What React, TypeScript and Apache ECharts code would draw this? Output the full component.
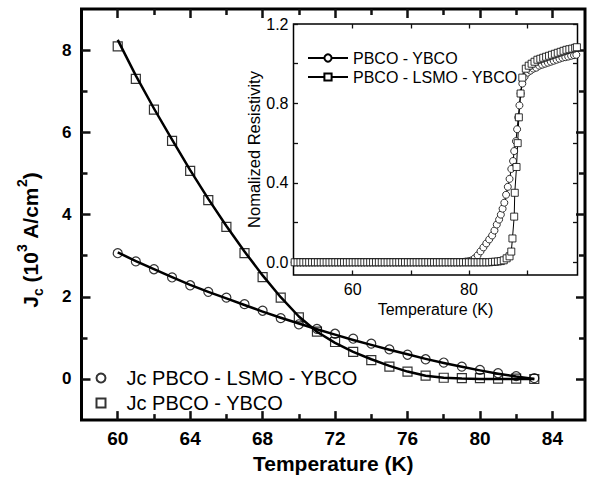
import React, { useEffect, useRef } from "react";
import * as echarts from "echarts";

// ---------- Main panel data (Jc vs T) ----------
const mainT = [60, 61, 62, 63, 64, 65, 66, 67, 68, 69, 70, 71, 72, 73, 74, 75, 76, 77, 78, 79, 80, 81, 82, 83];
const jcLsmo = [3.06, 2.86, 2.67, 2.47, 2.28, 2.12, 1.98, 1.82, 1.66, 1.48, 1.33, 1.22, 1.10, 0.98, 0.86, 0.72, 0.59, 0.48, 0.40, 0.30, 0.22, 0.14, 0.07, 0.02];
const jcYbco = [8.09, 7.30, 6.55, 5.79, 5.06, 4.35, 3.70, 3.06, 2.48, 1.98, 1.50, 1.15, 0.90, 0.66, 0.46, 0.30, 0.18, 0.08, 0.03, 0.02, 0.02, 0.01, 0.01, 0.0];
const fitLsmo = [3.08, 2.87, 2.67, 2.48, 2.29, 2.12, 1.96, 1.80, 1.64, 1.49, 1.35, 1.21, 1.08, 0.95, 0.83, 0.71, 0.60, 0.49, 0.39, 0.30, 0.21, 0.13, 0.06, 0.0];
const fitYbco = [8.25, 7.38, 6.58, 5.82, 5.08, 4.38, 3.72, 3.10, 2.52, 1.99, 1.52, 1.15, 0.88, 0.66, 0.48, 0.32, 0.18, 0.08, 0.03, 0.01, 0.0, 0.0, 0.0, 0.0];

const mainXMajor = [60, 64, 68, 72, 76, 80, 84];
const mainXMinor = [62, 66, 70, 74, 78, 82];
const mainYMajor = [0, 2, 4, 6, 8];
const mainYMinor = [1, 3, 5, 7];

// ---------- Inset data (normalized resistivity vs T) ----------
const insetT_pbcoYbco = [
  50, 50.5, 51, 51.5, 52, 52.5, 53, 53.5, 54, 54.5, 55, 55.5, 56, 56.5, 57, 57.5, 58, 58.5, 59, 59.5,
  60, 60.5, 61, 61.5, 62, 62.5, 63, 63.5, 64, 64.5, 65, 65.5, 66, 66.5, 67, 67.5, 68, 68.5, 69, 69.5,
  70, 70.5, 71, 71.5, 72, 72.5, 73, 73.5, 74, 74.5, 75, 75.5, 76, 76.5, 77, 77.5, 78, 78.5, 79, 79.5,
  80, 80.5, 81, 81.5, 82, 82.5, 83, 83.5, 84, 84.4, 84.8, 85.2, 85.5, 85.8, 86.1, 86.4, 86.7, 87, 87.3,
  87.6, 87.8, 88.1, 88.3, 88.5, 88.7, 88.9, 89.2, 89.6, 90.1, 90.6, 91.1, 91.6, 92.1, 92.6, 93.1, 93.6,
  94.1, 94.6, 95.1, 95.6, 96.1, 96.6, 97.1, 97.6, 98.1, 98.5,
];
const insetR_pbcoYbco = [
  0, 0, 0, 0, 0, 0, 0, 0, 0, 0, 0, 0, 0, 0, 0, 0, 0, 0, 0, 0,
  0, 0, 0, 0, 0, 0, 0, 0, 0, 0, 0, 0, 0, 0, 0, 0, 0, 0, 0, 0,
  0, 0, 0, 0, 0, 0, 0, 0, 0, 0, 0, 0, 0, 0, 0, 0, 0, 0, 0.002, 0.004,
  0.006, 0.01, 0.02, 0.035, 0.055, 0.075, 0.095, 0.115, 0.135, 0.16, 0.19, 0.215, 0.24, 0.27, 0.30, 0.34, 0.38, 0.42, 0.47,
  0.51, 0.56, 0.61, 0.67, 0.73, 0.79, 0.85, 0.90, 0.935, 0.955, 0.965, 0.975, 0.98, 0.99, 0.995, 1.0, 1.005,
  1.01, 1.015, 1.02, 1.025, 1.03, 1.033, 1.036, 1.04, 1.043, 1.045,
];
const insetT_pbcoLsmoYbco = [
  50, 50.5, 51, 51.5, 52, 52.5, 53, 53.5, 54, 54.5, 55, 55.5, 56, 56.5, 57, 57.5, 58, 58.5, 59, 59.5,
  60, 60.5, 61, 61.5, 62, 62.5, 63, 63.5, 64, 64.5, 65, 65.5, 66, 66.5, 67, 67.5, 68, 68.5, 69, 69.5,
  70, 70.5, 71, 71.5, 72, 72.5, 73, 73.5, 74, 74.5, 75, 75.5, 76, 76.5, 77, 77.5, 78, 78.5, 79, 79.5,
  80, 80.5, 81, 81.5, 82, 82.5, 83, 83.5, 84, 84.5, 85, 85.5, 86, 86.5, 87, 87.3, 87.5, 87.8, 87.9,
  88.2, 88.4, 88.6, 88.9, 89.2, 89.8, 90.3, 90.8, 91.3, 91.8, 92.3, 92.8, 93.3, 93.8, 94.3, 94.8, 95.3,
  95.8, 96.3, 96.8, 97.3, 97.8, 98.3, 98.6,
];
const insetR_pbcoLsmoYbco = [
  0, 0, 0, 0, 0, 0, 0, 0, 0, 0, 0, 0, 0, 0, 0, 0, 0, 0, 0, 0,
  0, 0, 0, 0, 0, 0, 0, 0, 0, 0, 0, 0, 0, 0, 0, 0, 0, 0, 0, 0,
  0, 0, 0, 0, 0, 0, 0, 0, 0, 0, 0, 0, 0, 0, 0, 0, 0, 0, 0, 0,
  0, 0, 0, 0, 0, 0, 0, 0, 0.002, 0.003, 0.004, 0.006, 0.01, 0.02, 0.03, 0.054, 0.12, 0.23, 0.35,
  0.48, 0.60, 0.73, 0.85, 0.93, 0.975, 0.99, 1.0, 1.01, 1.02, 1.025, 1.03, 1.035, 1.04, 1.045, 1.05, 1.055,
  1.06, 1.065, 1.07, 1.073, 1.076, 1.08, 1.083,
];

const insetXTicks = [60, 70, 80, 90];
const insetXLabels = [60, 80];
const insetYTicks = [0, 0.2, 0.4, 0.6, 0.8, 1.0, 1.2];
const insetYLabels = [0, 0.4, 0.8, 1.2];

const FONT = "'Liberation Sans', Arial, Helvetica, sans-serif";

function pairs(xs: number[], ys: number[]) {
  return xs.map((x, i) => [x, ys[i]]);
}

export default function App() {
  const ref = useRef<HTMLDivElement>(null);
  useEffect(() => {
    if (!ref.current) return;
    const chart = echarts.init(ref.current, null, { renderer: "svg" });

    const tick = (vals: number[], len: number, w: number) => ({
      show: true,
      inside: true,
      length: len,
      customValues: vals,
      lineStyle: { color: "#111", width: w },
    });
    const noLabel = { show: false };
    const noLine = { show: false, onZero: false };
    const noSplit = { show: false };

    const mainX = (position: string, ticks: number[], len: number, labels: boolean) => ({
      type: "value",
      gridIndex: 0,
      min: 58,
      max: 85.8,
      position,
      axisLine: noLine,
      splitLine: noSplit,
      axisTick: tick(ticks, len, 2.5),
      axisLabel: labels
        ? { show: true, customValues: ticks, margin: 9, color: "#000", fontSize: 19, fontWeight: "bold", fontFamily: FONT }
        : noLabel,
    });
    const mainY = (position: string, ticks: number[], len: number, labels: boolean) => ({
      type: "value",
      gridIndex: 0,
      min: -1,
      max: 9,
      position,
      axisLine: noLine,
      splitLine: noSplit,
      axisTick: tick(ticks, len, 2.5),
      axisLabel: labels
        ? { show: true, customValues: ticks, margin: 10, color: "#000", fontSize: 17, fontWeight: "bold", fontFamily: FONT }
        : noLabel,
    });
    const insetX = (position: string, labels: boolean) => ({
      type: "value",
      gridIndex: 1,
      min: 49.8,
      max: 98.7,
      position,
      axisLine: noLine,
      splitLine: noSplit,
      axisTick: tick(insetXTicks, 4.5, 1.3),
      axisLabel: labels
        ? { show: true, customValues: insetXLabels, margin: 6, color: "#000", fontSize: 16, fontFamily: FONT }
        : noLabel,
    });
    const insetY = (position: string, labels: boolean) => ({
      type: "value",
      gridIndex: 1,
      min: -0.064,
      max: 1.2,
      position,
      axisLine: noLine,
      splitLine: noSplit,
      axisTick: tick(insetYTicks, 4.5, 1.3),
      axisLabel: labels
        ? {
            show: true,
            customValues: insetYLabels,
            margin: 5,
            color: "#000",
            fontSize: 16,
            fontFamily: FONT,
            formatter: (v: number) => v.toFixed(1),
          }
        : noLabel,
    });

    const option: any = {
      animation: false,
      grid: [
        { left: 81.5, top: 9, right: 4, bottom: 55, show: true, borderColor: "#000", borderWidth: 3 },
        { left: 293.5, top: 24, right: 11.5, bottom: 204, show: true, borderColor: "#000", borderWidth: 1.5 },
      ],
      xAxis: [
        {
          ...mainX("bottom", mainXMajor, 9, true),
          name: "Temperature (K)",
          nameLocation: "middle",
          nameGap: 31,
          nameTextStyle: { color: "#000", fontSize: 21, fontWeight: "bold", fontFamily: FONT },
        },
        mainX("top", mainXMajor, 9, false),
        mainX("bottom", mainXMinor, 6, false),
        mainX("top", mainXMinor, 6, false),
        {
          ...insetX("bottom", true),
          name: "Temperature (K)",
          nameLocation: "middle",
          nameGap: 24,
          nameTextStyle: { color: "#000", fontSize: 16, fontFamily: FONT },
        },
        insetX("top", false),
      ],
      yAxis: [
        mainY("left", mainYMajor, 9, true),
        mainY("right", mainYMajor, 9, false),
        mainY("left", mainYMinor, 6, false),
        mainY("right", mainYMinor, 6, false),
        {
          ...insetY("left", true),
          name: "Nomalized Resistivity",
          nameLocation: "middle",
          nameGap: 31,
          nameTextStyle: { color: "#000", fontSize: 16.5, fontFamily: FONT },
        },
        insetY("right", false),
      ],
      legend: [
        {
          data: [
            { name: "Jc PBCO - LSMO - YBCO", icon: "circle" },
            { name: "Jc PBCO - YBCO", icon: "rect" },
          ],
          orient: "vertical",
          left: 95.5,
          top: 368,
          padding: 0,
          itemWidth: 9,
          itemHeight: 9,
          itemGap: 5,
          textStyle: { color: "#000", fontSize: 20, lineHeight: 20, fontFamily: FONT, padding: [0, 0, 0, 16] },
          selectedMode: false,
        },
        {
          data: ["PBCO - YBCO", "PBCO - LSMO - YBCO"],
          orient: "vertical",
          left: 307,
          top: 50,
          padding: 0,
          itemWidth: 40,
          itemHeight: 9,
          itemGap: 3,
          textStyle: { color: "#000", fontSize: 16, lineHeight: 16, fontFamily: FONT },
          selectedMode: false,
        },
      ],
      graphic: [
        {
          type: "text",
          x: 30,
          y: 240,
          rotation: Math.PI / 2,
          style: {
            text: "{b|J}{s|c}{b| (10}{p|3}{b| A/cm}{p|2}{b|)}",
            align: "center",
            verticalAlign: "middle",
            rich: {
              b: { fontSize: 21, fontWeight: "bold", fontFamily: FONT, fill: "#000", lineHeight: 30, verticalAlign: "middle" },
              s: { fontSize: 14, fontWeight: "bold", fontFamily: FONT, fill: "#000", lineHeight: 14, verticalAlign: "bottom" },
              p: { fontSize: 14, fontWeight: "bold", fontFamily: FONT, fill: "#000", lineHeight: 14, verticalAlign: "top" },
            },
          },
        },
      ],
      series: [
        {
          name: "fitLsmo",
          type: "line",
          xAxisIndex: 0,
          yAxisIndex: 0,
          data: pairs(mainT, fitLsmo),
          smooth: false,
          showSymbol: false,
          lineStyle: { color: "#000", width: 2.5, join: "round" },
        },
        {
          name: "fitYbco",
          type: "line",
          xAxisIndex: 0,
          yAxisIndex: 0,
          data: pairs(mainT, fitYbco),
          smooth: false,
          showSymbol: false,
          lineStyle: { color: "#000", width: 2.5, join: "round" },
        },
        {
          name: "Jc PBCO - LSMO - YBCO",
          type: "scatter",
          xAxisIndex: 0,
          yAxisIndex: 0,
          data: pairs(mainT, jcLsmo),
          symbol: "circle",
          symbolSize: 9,
          itemStyle: { color: "rgba(255,255,255,0)", borderColor: "#000", borderWidth: 1.2 },
        },
        {
          name: "Jc PBCO - YBCO",
          type: "scatter",
          xAxisIndex: 0,
          yAxisIndex: 0,
          data: pairs(mainT, jcYbco),
          symbol: "rect",
          symbolSize: 9,
          itemStyle: { color: "rgba(255,255,255,0)", borderColor: "#000", borderWidth: 1.2 },
        },
        {
          name: "PBCO - YBCO",
          type: "line",
          xAxisIndex: 4,
          yAxisIndex: 4,
          data: pairs(insetT_pbcoYbco, insetR_pbcoYbco),
          symbol: "circle",
          symbolSize: 7,
          showAllSymbol: true,
          lineStyle: { color: "#000", width: 1 },
          itemStyle: { color: "#fff", borderColor: "#000", borderWidth: 0.8 },
          clip: true,
        },
        {
          name: "PBCO - LSMO - YBCO",
          type: "line",
          xAxisIndex: 4,
          yAxisIndex: 4,
          data: pairs(insetT_pbcoLsmoYbco, insetR_pbcoLsmoYbco),
          symbol: "rect",
          symbolSize: 7,
          showAllSymbol: true,
          lineStyle: { color: "#000", width: 1 },
          itemStyle: { color: "#fff", borderColor: "#000", borderWidth: 0.8 },
          clip: true,
        },
      ],
    };
    chart.setOption(option);
    return () => chart.dispose();
  }, []);

  return (
    <div
      ref={ref}
      style={{ position: "fixed", left: 0, top: 0, width: 589, height: 479, background: "#fff" }}
    />
  );
}
